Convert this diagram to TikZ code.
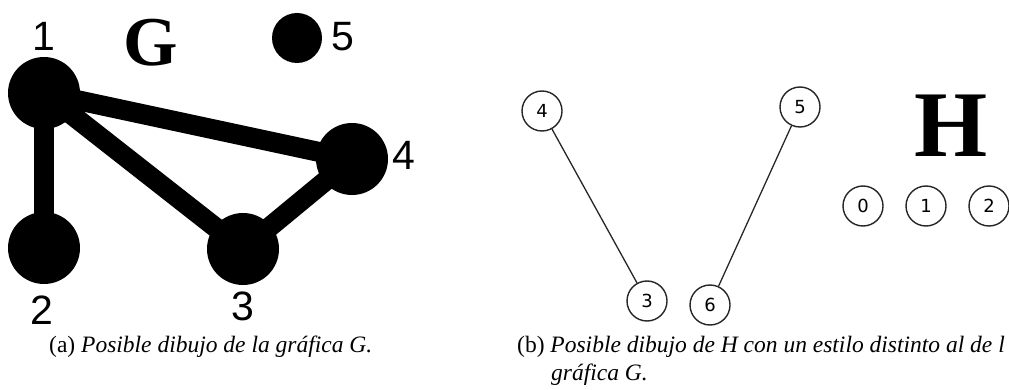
\documentclass[tikz,border=0pt]{standalone}
\usepackage{fontspec}
\setmainfont{Liberation Serif}
\newfontfamily\labfont{Liberation Sans}
\newfontfamily\djfont{DejaVu Sans}
\begin{document}
\begin{tikzpicture}[x=1pt,y=-1pt,
  gnode/.style={circle,fill=black,inner sep=0pt,minimum size=72pt},
  gedge/.style={line width=20pt,black},
  glabel/.style={inner sep=0pt,font=\labfont\fontsize{41}{41}\selectfont},
  hnode/.style={circle,draw=black!85,line width=1.4pt,fill=white,inner sep=0pt,minimum size=40pt,font=\djfont\fontsize{18}{18}\selectfont},
  hedge/.style={line width=1.3pt,black!85},
  title/.style={inner sep=0pt,font=\bfseries},
  caption/.style={inner sep=0pt,anchor=base west,font=\fontsize{23.5}{28}\selectfont}]
\useasboundingbox (0,0) rectangle (1009,390);
\clip (0,0) rectangle (1009,390);
% graph G
\coordinate (c1) at (44,93);
\coordinate (c2) at (44,248);
\coordinate (c3) at (243,249);
\coordinate (c4) at (352,159);
\draw[gedge] (c1) -- (c2);
\draw[gedge] (c1) -- (c3);
\draw[gedge] (c1) -- (c4);
\draw[gedge] (c3) -- (c4);
\node[gnode] (g1) at (c1) {};
\node[gnode] (g2) at (c2) {};
\node[gnode] (g3) at (c3) {};
\node[gnode] (g4) at (c4) {};
\node[gnode,minimum size=50pt] (g5) at (297,38) {};
\node[glabel] (l1) at (44,36) {1};
\node[glabel] (l2) at (42,310) {2};
\node[glabel] (l3) at (243,306) {3};
\node[glabel] (l4) at (404,155) {4};
\node[glabel] (l5) at (343,37) {5};
\node[title,font=\bfseries\fontsize{70}{70}\selectfont] (tG) at (151,43) {G};
% graph H
\node[hnode] (h4) at (542,111) {4};
\node[hnode] (h5) at (800,107) {5};
\node[hnode] (h3) at (647,301) {3};
\node[hnode] (h6) at (710,305) {6};
\node[hnode] (h0) at (863,206) {0};
\node[hnode] (h1) at (926,206) {1};
\node[hnode] (h2) at (989,206) {2};
\draw[hedge] (h4) -- (h3);
\draw[hedge] (h5) -- (h6);
\node[title,font=\bfseries\fontsize{94}{94}\selectfont] (tH) at (951,126) {H};
% captions
\node[caption] (capa) at (49,352) {(a) \textit{Posible dibujo de la gráfica G.}};
\node[caption] (capb) at (517,352) {(b) \textit{Posible dibujo de H con un estilo distinto al de l}};
\node[caption] (capb2) at (551,380) {\textit{gráfica G.}};
\end{tikzpicture}
\end{document}
